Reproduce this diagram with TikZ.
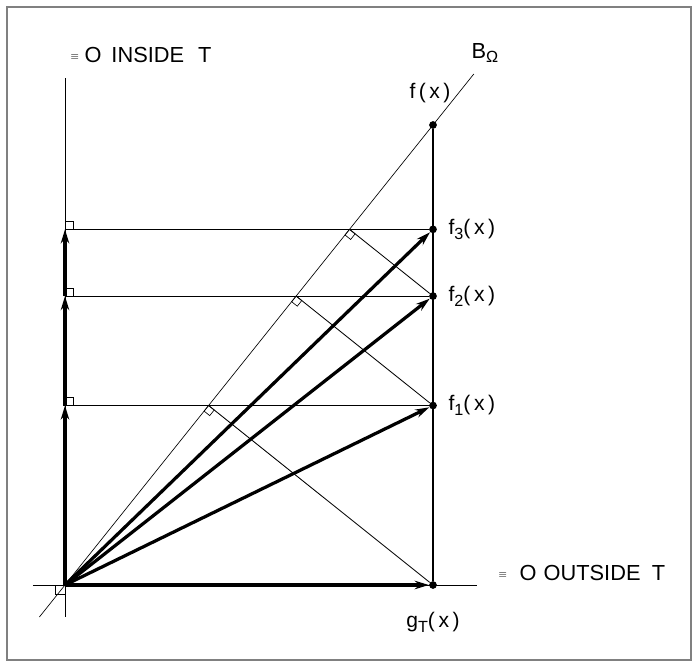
\documentclass[tikz,border=0pt]{standalone}
\usepackage{fontspec}
\setmainfont{Liberation Sans}
\usetikzlibrary{calc,positioning,arrows.meta}

% Lowered subscript and small identity sign of the lettering
\newcommand{\lowSub}[1]{\raisebox{-3.5pt}{\fontsize{11.5}{11.5}\selectfont #1}}
\newcommand{\idZero}{\raisebox{2pt}{\fontsize{7}{7}\selectfont$\equiv$}}

\begin{document}
\begin{tikzpicture}[
    fdot/.style={circle, fill, inner sep=0pt, minimum size=5.5pt},
    thinLine/.style={line width=0.6pt},
    markLine/.style={line width=0.45pt},
    thickArrow/.style={line width=2.3pt, -{Stealth[length=10pt, width=6pt]}},
    lettering/.style={font=\fontsize{15}{15}\selectfont, inner sep=0pt},
    capsLettering/.style={font=\fontsize{15.5}{15.5}\selectfont, inner sep=0pt}
  ]
  % Picture size and frame
  \useasboundingbox (-1.625,-1.975) rectangle (15.75,14.625);
  \draw[gray, line width=0.8pt] (-1.45,-1.875) rectangle (15.65,14.45);

  % Slope of the line B and place of the vertical through f(x)
  \def\slope{1.25}
  \def\xPos{9.2}
  \pgfmathsetmacro{\lineAngle}{atan(\slope)}

  % Axes and the line B
  \coordinate (O) at (0,0);
  \coordinate (xLeft) at (-0.8,0);
  \coordinate (xRight) at (10.3,0);
  \coordinate (yLow) at (0,-0.8);
  \coordinate (yTop) at (0,12.675);
  \coordinate (bLow) at (-0.64,-0.8);
  \coordinate (bTop) at (10.22,12.775);
  \draw[thinLine] (xLeft) -- (xRight);
  \draw[thinLine] (yLow) -- (yTop);
  \draw[markLine] (bLow) -- (bTop);

  % Points on the vertical, each one from the foot of the one below
  \node[fdot] (g) at (\xPos,0) {};
  \node[fdot] (f) at (\xPos,{\xPos*\slope}) {};
  \coordinate (P1) at ($(O)!(g)!(bTop)$);
  \node[fdot] (f1) at (g |- P1) {};
  \coordinate (P2) at ($(O)!(f1)!(bTop)$);
  \node[fdot] (f2) at (g |- P2) {};
  \coordinate (P3) at ($(O)!(f2)!(bTop)$);
  \node[fdot] (f3) at (g |- P3) {};

  % Same heights on the left axis
  \foreach \k in {1,2,3}{
      \coordinate (L\k) at (O |- f\k);
    }

  % Vertical line through f(x)
  \draw[line width=0.75pt] (f) -- (g);

  % Horizontal lines with right-angle marks
  \foreach \k in {1,2,3}{
      \draw[thinLine] (L\k) -- (f\k);
      \draw[markLine] (L\k) rectangle ++(0.2,0.2);
    }
  \draw[markLine] (O) rectangle ++(-0.24,-0.24);

  % Perpendiculars onto B with right-angle marks
  \draw[thinLine] (g) -- (P1);
  \draw[thinLine] (f1) -- (P2);
  \draw[thinLine] (f2) -- (P3);
  \foreach \k in {1,2,3}{
      \draw[markLine, shift={(P\k)}, rotate=\lineAngle] (0,0) rectangle (-0.18,-0.18);
    }

  % Thick arrows
  \draw[thickArrow] (O) -- (g);
  \foreach \k in {1,2,3}{
      \draw[thickArrow] (O) -- (f\k);
    }
  \draw[thickArrow] (O) -- (L1);
  \draw[thickArrow] (L1) -- (L2);
  \draw[thickArrow] (L2) -- (L3);

  % Labels
  \node[capsLettering, anchor=west] (insideT) at (0.125,13.25)
    {\idZero\hspace{4pt}O\hspace{7pt}INSIDE\hspace{10pt}T};
  \node[capsLettering, anchor=west] (outsideT) at (10.825,0.3)
    {\idZero\hspace{9pt}O\hspace{5pt}OUTSIDE\hspace{8pt}T};
  \node[capsLettering] (bLabel) at (10.5,13.3) {B\lowSub{Ω}};
  \node[lettering] (fLabel) at (9.125,12.3) {f\,(\,x\,)};
  \node[lettering, right=0.28cm of f3] (f3Label) {f\lowSub{3}(\,x\,)};
  \node[lettering, right=0.28cm of f2] (f2Label) {f\lowSub{2}(\,x\,)};
  \node[lettering, right=0.28cm of f1] (f1Label) {f\lowSub{1}(\,x\,)};
  \node[lettering] (gLabel) at (9.2,-0.925) {g\lowSub{T}(\,x\,)};
\end{tikzpicture}
\end{document}
